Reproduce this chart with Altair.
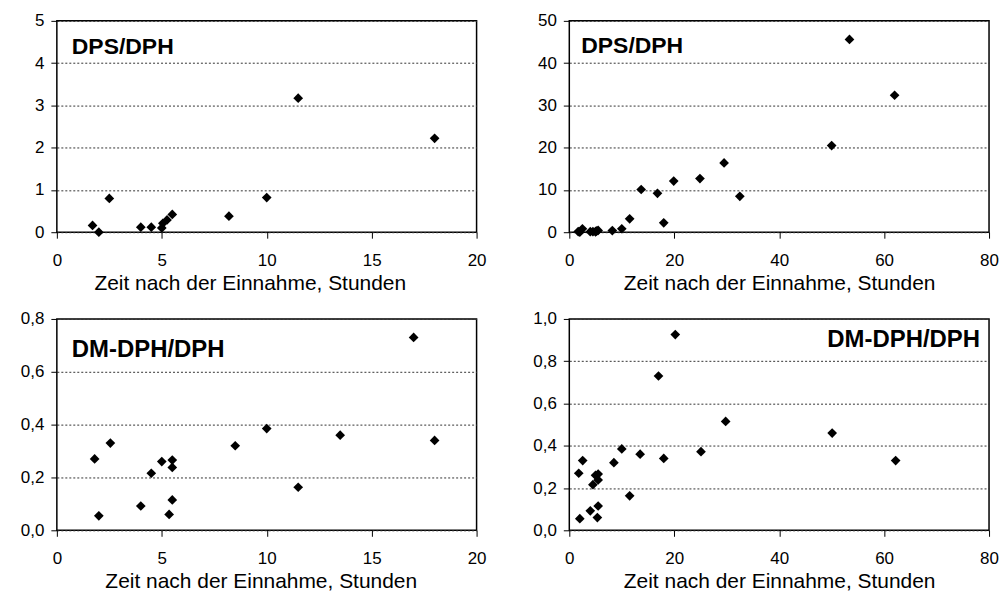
import altair as alt
import pandas as pd

# DPS/DPH ratio vs. time after intake (hours)
dps_time = [1.7, 2.0, 2.5, 4.0, 4.5, 5.0, 5.05, 5.25, 5.5, 8.2, 10.0, 11.5,
            13.7, 16.8, 18.0, 19.9, 24.9, 29.5, 32.5, 50.0, 53.4, 62.0]
dps_ratio = [0.16, 0.0, 0.80, 0.12, 0.12, 0.10, 0.21, 0.29, 0.42, 0.38, 0.82, 3.17,
             10.1, 9.2, 2.22, 12.1, 12.7, 16.4, 8.5, 20.5, 45.6, 32.4]

# DM-DPH/DPH ratio vs. time after intake (hours)
dm_time = [1.8, 2.0, 2.55, 4.0, 4.5, 5.0, 5.5, 5.5, 5.5, 5.35, 8.5, 10.0,
           11.5, 13.5, 17.0, 18.0, 20.2, 25.1, 29.8, 50.1, 62.2]
dm_ratio = [0.27, 0.055, 0.33, 0.092, 0.216, 0.26, 0.266, 0.238, 0.115, 0.06, 0.32, 0.385,
            0.163, 0.36, 0.73, 0.34, 0.926, 0.372, 0.515, 0.46, 0.33]

x_title = "Zeit nach der Einnahme, Stunden"
FONT = "Liberation Sans"
W, H = 421, 212

dps_df = pd.DataFrame({"t": dps_time, "v": dps_ratio})
dm_df = pd.DataFrame({"t": dm_time, "v": dm_ratio})


def panel(df, xmax, xstep, ymax, ystep, label, comma, label_x, label_y, align, title_dx, fsize):
    xticks = [i * xstep for i in range(int(round(xmax / xstep)) + 1)]
    n = int(round(ymax / ystep))
    yticks = [round(i * ystep, 2) for i in range(n + 1)]
    ylab = "replace(format(datum.value, '.1f'), '.', ',')" if comma else "format(datum.value, 'd')"
    pts = alt.Chart(df).transform_filter(
        f"datum.t <= {xmax} && datum.v <= {ymax}"
    ).mark_point(shape="diamond", filled=True, color="black", size=95, opacity=1).encode(
        x=alt.X("t:Q", scale=alt.Scale(domain=[0, xmax], nice=False),
                axis=alt.Axis(values=xticks, title=x_title, grid=False, domain=False,
                              tickSize=6, tickColor="black", labelPadding=14, titlePadding=4,
                              labelFontSize=17, titleFontSize=21, labelFont=FONT, titleFont=FONT,
                              labelColor="black", titleColor="black", titleFontWeight="normal",
                              titleX=W / 2 + title_dx, labelFlush=False)),
        y=alt.Y("v:Q", scale=alt.Scale(domain=[0, ymax], nice=False),
                axis=alt.Axis(values=yticks, title=None, grid=True, gridDash=[2, 2],
                              gridColor="#333333", gridWidth=1, domain=False, tickSize=6,
                              tickColor="black", labelPadding=7, labelFontSize=17,
                              labelFont=FONT, labelColor="black", labelExpr=ylab,
                              minExtent=43, maxExtent=43, labelFlush=False)),
    )
    txt = alt.Chart(pd.DataFrame({"label": [label]})).mark_text(
        align=align, baseline="middle", fontWeight="bold", fontSize=fsize, font=FONT, color="black"
    ).encode(x=alt.value(label_x), y=alt.value(label_y), text="label:N")
    return alt.layer(pts, txt).properties(width=W, height=H)


p1 = panel(dps_df, 20, 5, 5, 1, "DPS/DPH", False, 15, 26, "left", -17, 23)
p2 = panel(dps_df, 80, 20, 50, 10, "DPS/DPH", False, 12, 25, "left", 0, 23)
p3 = panel(dm_df, 20, 5, 0.8, 0.2, "DM-DPH/DPH", True, 15, 31, "left", -6, 24)
p4 = panel(dm_df, 80, 20, 1.0, 0.2, "DM-DPH/DPH", True, W - 9, 21, "right", 0, 24)

chart = alt.vconcat(
    alt.hconcat(p1, p2, spacing=38),
    alt.hconcat(p3, p4, spacing=38),
    spacing=15,
).properties(
    padding={"left": 5, "top": 2, "right": 0, "bottom": 0}
).configure(background="white").configure_view(stroke="black", strokeWidth=1.5)

chart.save("out.html", embed_options={"renderer": "svg", "actions": False})
